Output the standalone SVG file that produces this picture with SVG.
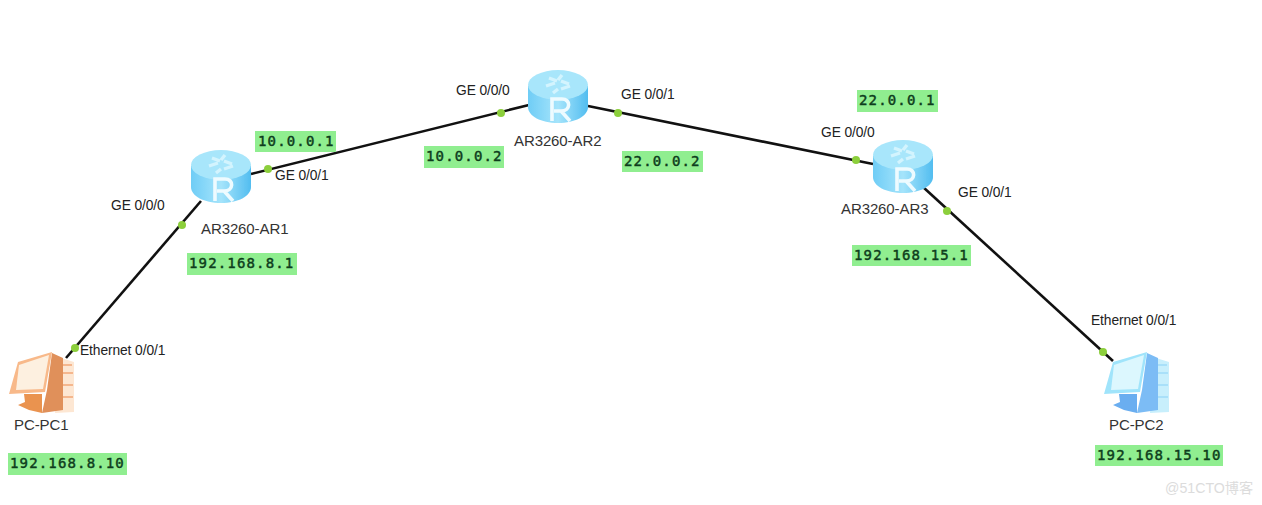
<svg xmlns="http://www.w3.org/2000/svg" width="1262" height="505" viewBox="0 0 1262 505">
<style>
.t{font-family:"Liberation Sans",Arial,sans-serif;font-size:13.8px;letter-spacing:-.1px;fill:#222}
.n{font-family:"Liberation Sans",Arial,sans-serif;font-size:15px;letter-spacing:-.1px;fill:#333}
.ip{font-family:"DejaVu Sans Mono",monospace;font-size:14px;fill:#0d3d1c;stroke:#0d3d1c;stroke-width:.45px;letter-spacing:1.15px}
.bg{fill:#90ee90}
.l{stroke:#111;stroke-width:2.6;fill:none}
.d{fill:#8ccf3c}
</style>
<defs>
<filter id="soft" x="-5%" y="-5%" width="110%" height="110%"><feGaussianBlur stdDeviation=".45"/></filter>
<linearGradient id="rg" x1="0" x2="1" y1="0" y2="0"><stop offset="0" stop-color="#6fcdf6"/><stop offset=".5" stop-color="#a5e4fb"/><stop offset="1" stop-color="#52bdf0"/></linearGradient>
<symbol id="router" width="60" height="54" viewBox="0 0 60 54">
<g filter="url(#soft)">
<path d="M0 16V37C0 46 13 53 30 53S60 46 60 37V16Z" fill="url(#rg)"/>
<ellipse cx="30" cy="15" rx="30" ry="15" fill="#a8e6fb"/>
<g stroke="#d3f4fe" stroke-width="3.4" fill="none"><path d="M18 16l9-3M33 19l9-3M21 8l8 3M33 11l8 3M25 23l5-4M34 5l-4 5"/></g>
<path d="M24 51V29H34C43 29 43 41 33 41H26M33 41L42 51" stroke="#eefbff" stroke-width="3.6" fill="none"/>
</g>
</symbol>
<symbol id="pc" width="66" height="66" viewBox="0 0 66 66">
<g filter="url(#soft)">
<path d="M52 8L65 12V62L46 63Z" fill="var(--back)"/>
<path d="M54 15H63M54 23H64M54 35H64M54 47H64" stroke="var(--stripe)" stroke-width="1.6"/>
<path d="M43 3L54 8V60L33 63L38 40Z" fill="var(--side)"/>
<path d="M8 12L42 2L35 42L-1 44Z" fill="var(--frame)" transform="translate(1 0)"/>
<path d="M10 15L40 5L34 39L7 40Z" fill="var(--screen)"/>
<path d="M15 44H33V63L20 60L9 55L16 52Z" fill="var(--dark)"/>
</g>
</symbol>
</defs>
<rect width="1262" height="505" fill="#fff"/>
<g id="connectors">
<path class="l" d="M66 358L201 201"/>
<path class="l" d="M251 174L529 105"/>
<path class="l" d="M588 106L873 164"/>
<path class="l" d="M923 187L1113 361"/>
<g>
<circle class="d" cx="182" cy="225" r="4"/><circle class="d" cx="75" cy="348" r="4"/>
<circle class="d" cx="268" cy="169" r="4"/><circle class="d" cx="501" cy="113" r="4"/>
<circle class="d" cx="618" cy="113" r="4"/><circle class="d" cx="856" cy="160" r="4"/>
<circle class="d" cx="947" cy="211" r="4"/><circle class="d" cx="1103" cy="352" r="4"/>
</g>
</g>
<g id="AR1"><use href="#router" x="191" y="150" width="60" height="54"/><text class="n" x="201" y="234">AR3260-AR1</text></g>
<g id="AR2"><use href="#router" x="528" y="70" width="60" height="54"/><text class="n" x="514" y="146">AR3260-AR2</text></g>
<g id="AR3"><use href="#router" x="873" y="140" width="60" height="54"/><text class="n" x="841" y="214">AR3260-AR3</text></g>
<g id="PC1"><use href="#pc" x="9" y="350" width="66" height="66" style="--side:#e0905a;--back:#fde7d3;--stripe:#f2a878;--dark:#ea9350;--frame:#f8b98a;--screen:#fdf0e0"/><text class="n" x="14" y="430">PC-PC1</text></g>
<g id="PC2"><use href="#pc" x="1104" y="350" width="66" height="66" style="--side:#7cbcf5;--back:#c8effc;--stripe:#9edcf8;--dark:#6aaef0;--frame:#a0e4fb;--screen:#dcf7fe"/><text class="n" x="1109" y="430">PC-PC2</text></g>
<g id="port-labels">
<text class="t" x="111" y="210">GE 0/0/0</text>
<text class="t" x="80" y="355">Ethernet 0/0/1</text>
<text class="t" x="275" y="180">GE 0/0/1</text>
<text class="t" x="456" y="95">GE 0/0/0</text>
<text class="t" x="621" y="99">GE 0/0/1</text>
<text class="t" x="821" y="137">GE 0/0/0</text>
<text class="t" x="958" y="197">GE 0/0/1</text>
<text class="t" x="1091" y="325">Ethernet 0/0/1</text>
</g>
<g id="ip-labels">
<rect class="bg" x="255" y="131" width="81" height="21"/><text class="ip" x="258" y="146">10.0.0.1</text>
<rect class="bg" x="424" y="146" width="80" height="22"/><text class="ip" x="426" y="161">10.0.0.2</text>
<rect class="bg" x="622" y="151" width="81" height="21"/><text class="ip" x="624" y="166">22.0.0.2</text>
<rect class="bg" x="857" y="90" width="81" height="22"/><text class="ip" x="859" y="105">22.0.0.1</text>
<rect class="bg" x="187" y="253" width="110" height="22"/><text class="ip" x="189" y="268">192.168.8.1</text>
<rect class="bg" x="852" y="245" width="119" height="21"/><text class="ip" x="854" y="260">192.168.15.1</text>
<rect class="bg" x="8" y="453" width="119" height="22"/><text class="ip" x="10" y="468">192.168.8.10</text>
<rect class="bg" x="1095" y="445" width="128" height="21"/><text class="ip" x="1097" y="460">192.168.15.10</text>
</g>
<text x="1165" y="493" font-family="'Liberation Sans','Noto Sans CJK SC',sans-serif" font-size="14.2px" fill="#dcdcdc">@51CTO博客</text>
</svg>
